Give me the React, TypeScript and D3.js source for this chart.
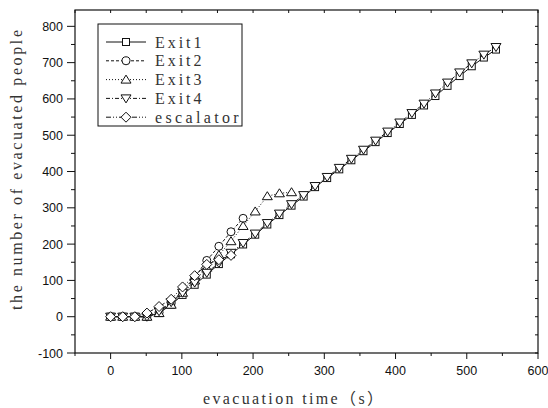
import React from 'react';
import * as d3 from 'd3';

// evacuation time (s) at each marker
const times = [0, 17, 34, 51, 68, 85, 101, 118, 135, 152, 169, 186, 203, 220, 237, 254, 271, 287, 304, 321, 338, 355, 372, 389, 406, 423, 440, 456, 473, 490, 507, 524, 541];

const exit1 = [0, 0, 0, 0, 10, 33, 60, 88, 116, 145, 172, 199, 226, 254, 280, 306, 331, 357, 382, 406, 431, 456, 481, 506, 531, 556, 582, 608, 636, 663, 690, 714, 736];
const exit2 = [0, 0, 0, 0, 12, 38, 72, 108, 155, 194, 234, 271];
const exit3 = [0, 0, 0, 0, 10, 33, 66, 100, 135, 170, 208, 250, 290, 332, 340, 343];
const exit4 = [0, 0, 0, 0, 15, 40, 66, 94, 121, 148, 176, 203, 229, 258, 284, 310, 335, 360, 385, 410, 435, 460, 485, 510, 535, 561, 587, 615, 645, 673, 698, 722, 743];
const escalator = [0, 0, 0, 10, 28, 48, 82, 113, 144, 157, 169];

const seriesNames = ['Exit1', 'Exit2', 'Exit3', 'Exit4', 'escalator'];
const seriesValues = [exit1, exit2, exit3, exit4, escalator];
const symbols = ['square', 'circle', 'triUp', 'triDown', 'diamond'];
const dashes = ['', '3,2', '1,2', '4,2,1,2', '5,2,1,2,1,2'];

const xTicks = [0, 100, 200, 300, 400, 500, 600];
const yTicks = [-100, 0, 100, 200, 300, 400, 500, 600, 700, 800];

const W = 548;
const H = 408;
const L = 75;
const R = 538;
const T = 10;
const B = 353;

const x = d3.scaleLinear().domain([-50, 600]).range([L, R]);
const y = d3.scaleLinear().domain([-100, 845]).range([B, T]);

const Marker = ({ kind, cx, cy }: { kind: string; cx: number; cy: number }) => {
  const p = { fill: 'white', stroke: '#111', strokeWidth: 1 };
  if (kind === 'square') return <rect x={cx - 3.5} y={cy - 3.5} width={7} height={7} {...p} />;
  if (kind === 'circle') return <circle cx={cx} cy={cy} r={4} {...p} />;
  if (kind === 'triUp')
    return <path d={`M${cx},${cy - 4.5}L${cx + 5},${cy + 3.5}L${cx - 5},${cy + 3.5}Z`} {...p} />;
  if (kind === 'triDown')
    return <path d={`M${cx},${cy + 4.5}L${cx + 5},${cy - 3.5}L${cx - 5},${cy - 3.5}Z`} {...p} />;
  return <path d={`M${cx},${cy - 5}L${cx + 5},${cy}L${cx},${cy + 5}L${cx - 5},${cy}Z`} {...p} />;
};

const App = () => {
  const line = d3
    .line<number>()
    .x((_, i) => x(times[i]))
    .y((d) => y(d));

  const xMinor = d3.range(-50, 601, 50);
  const yMinor = d3.range(-100, 846, 50);
  const sans = "'Liberation Sans', Arial, sans-serif";
  const serif = "'Liberation Serif', 'Noto Sans CJK SC', serif";

  return (
    <svg width={W} height={H} style={{ position: 'absolute', left: 0, top: 0, background: 'white' }}>
      {/* frame */}
      <rect x={L} y={T} width={R - L} height={B - T} fill="none" stroke="#111" strokeWidth={1.2} />

      {/* bottom / top ticks */}
      {xMinor.map((v) => (
        <g key={'xb' + v}>
          <line x1={x(v)} x2={x(v)} y1={B} y2={B + (v % 100 === 0 ? 6 : 3)} stroke="#111" />
          <line x1={x(v)} x2={x(v)} y1={T} y2={T + 3} stroke="#111" />
        </g>
      ))}
      {xTicks.map((v) => (
        <text key={'xt' + v} x={x(v)} y={375} fontSize={12.5} fontFamily={sans} textAnchor="middle" fill="#111">
          {v}
        </text>
      ))}

      {/* left / right ticks */}
      {yMinor.map((v) => (
        <g key={'yl' + v}>
          <line x1={L} x2={L - (v % 100 === 0 ? 8 : 4)} y1={y(v)} y2={y(v)} stroke="#111" />
          <line x1={R} x2={R - 3} y1={y(v)} y2={y(v)} stroke="#111" />
        </g>
      ))}
      {yTicks.map((v) => (
        <text key={'yt' + v} x={63} y={y(v) + 4.5} fontSize={12.5} fontFamily={sans} textAnchor="end" fill="#111">
          {v}
        </text>
      ))}

      {/* axis titles */}
      <text x={203} y={404} fontSize={16} fontFamily={serif} fill="#333" textLength={180} lengthAdjust="spacing">
        evacuation time（s）
      </text>
      <text
        transform="translate(22,310) rotate(-90)"
        fontSize={16}
        fontFamily={serif}
        fill="#333"
        textLength={280}
        lengthAdjust="spacing"
      >
        the number of evacuated people
      </text>

      {/* series */}
      {seriesValues.map((vals, s) => (
        <g key={seriesNames[s]}>
          <path d={line(vals) || ''} fill="none" stroke="#111" strokeWidth={1} strokeDasharray={dashes[s]} />
          {vals.map((v, i) => (
            <Marker key={i} kind={symbols[s]} cx={x(times[i])} cy={y(v)} />
          ))}
        </g>
      ))}

      {/* legend */}
      <rect x={98} y={24} width={144} height={102} fill="white" stroke="#111" strokeWidth={1} />
      {seriesNames.map((name, s) => {
        const ly = 42 + s * 18.8;
        return (
          <g key={'lg' + name}>
            <line x1={106} x2={146} y1={ly} y2={ly} stroke="#111" strokeDasharray={dashes[s]} />
            <Marker kind={symbols[s]} cx={126} cy={ly} />
            <text
              x={155}
              y={ly + 5.5}
              fontSize={16}
              fontFamily={serif}
              fill="#333"
              textLength={name.length * 9.3}
              lengthAdjust="spacing"
            >
              {name}
            </text>
          </g>
        );
      })}
    </svg>
  );
};

export default App;
